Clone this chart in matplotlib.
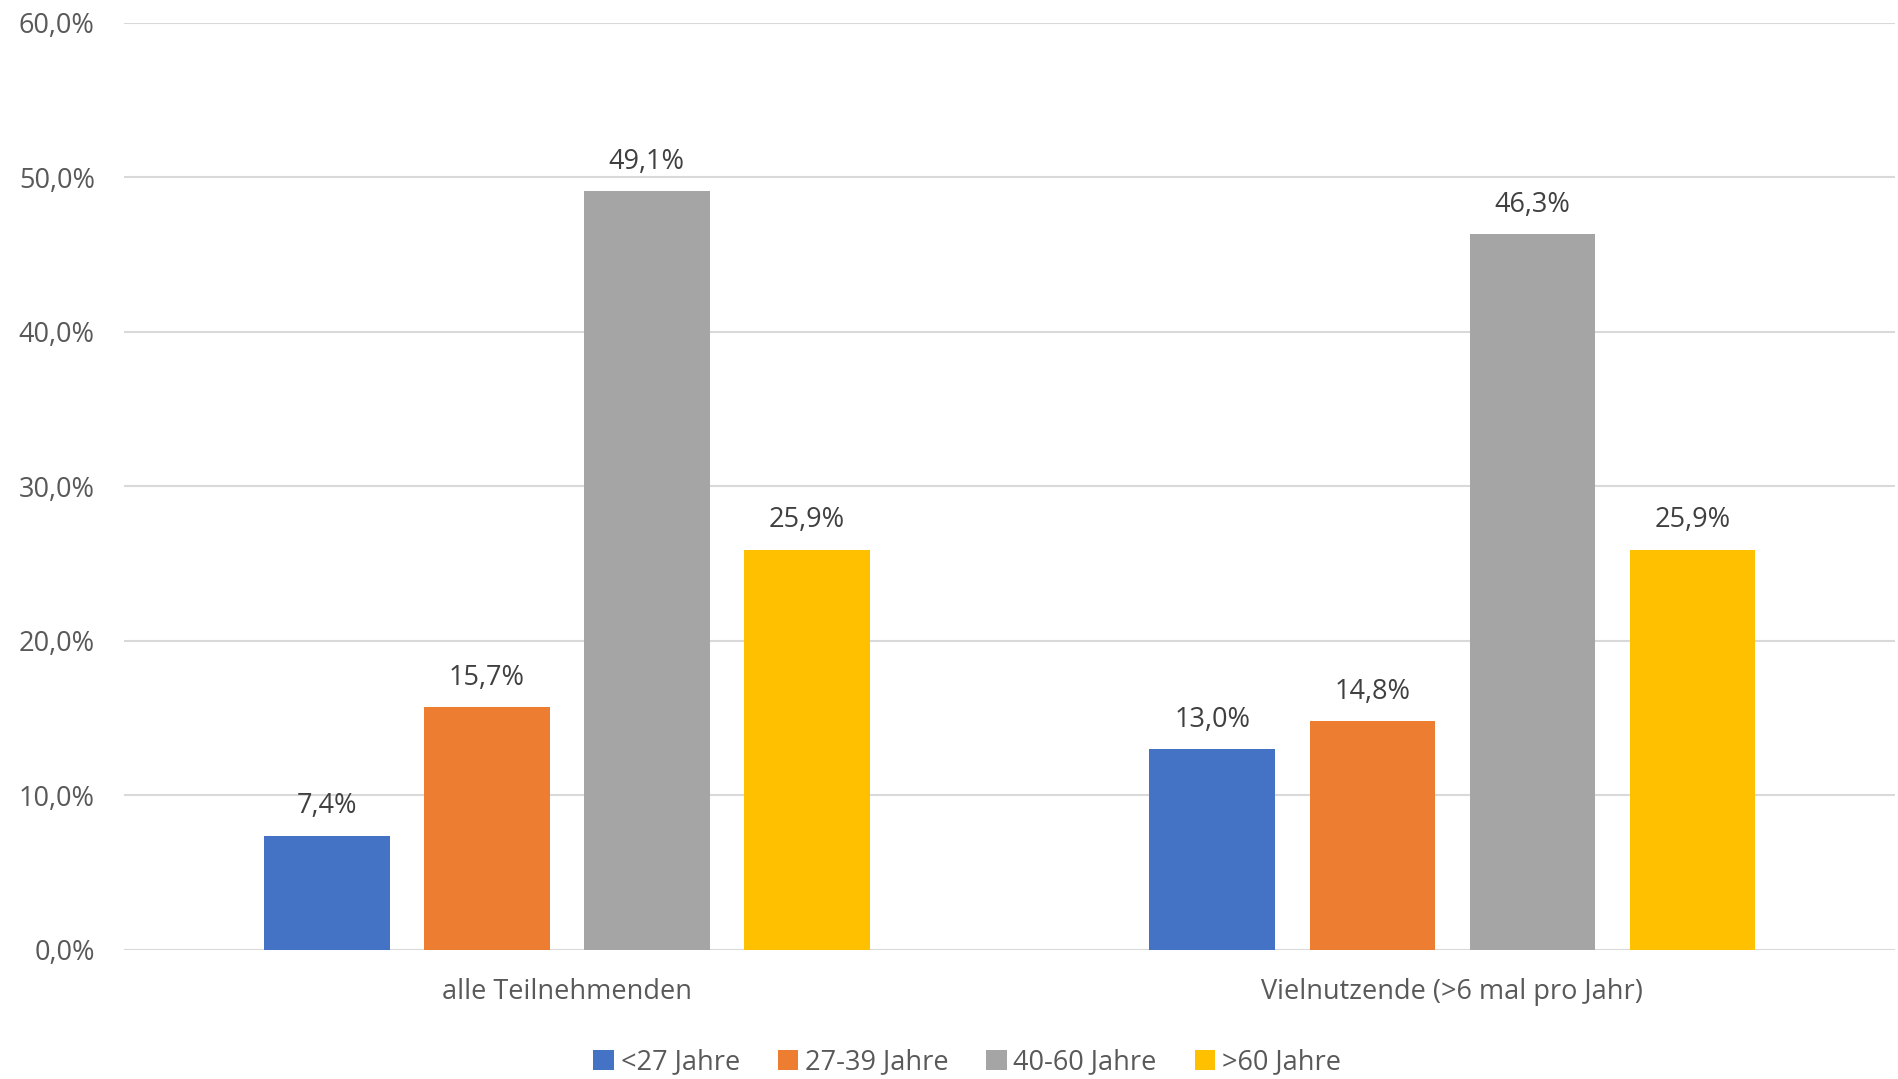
import matplotlib.pyplot as plt
import numpy as np

kategorien = ["alle Teilnehmenden", "Vielnutzende (>6 mal pro Jahr)"]
altersgruppen = ["<27 Jahre", "27-39 Jahre", "40-60 Jahre", ">60 Jahre"]
werte = [
    [7.4, 13.0],
    [15.7, 14.8],
    [49.1, 46.3],
    [25.9, 25.9],
]
farben = ["#4472C4", "#ED7D31", "#A5A5A5", "#FFC000"]
y_ticks = [0, 10, 20, 30, 40, 50, 60]

plt.rcParams['font.family'] = ['Open Sans', 'DejaVu Sans']
textfarbe = "#595959"

fig = plt.figure(figsize=(18.99, 10.79), dpi=100)
ax = fig.add_axes([0.0653, 0.1196, 0.9327, 0.8594])

x = np.arange(len(kategorien))
abstand = 0.1807
breite = 0.142
for i, (name, w) in enumerate(zip(altersgruppen, werte)):
    pos = x + (i - 1.5) * abstand
    balken = ax.bar(pos, w, breite, color=farben[i], label=name, zorder=3)
    for b, v in zip(balken, w):
        ax.annotate(f"{v:.1f}%".replace(".", ","),
                    (b.get_x() + b.get_width() / 2, v),
                    xytext=(0, 11), textcoords="offset points",
                    ha="center", va="bottom", fontsize=19.5, color="#404040")

ax.set_xlim(-0.5, 1.5)
ax.set_ylim(0, 60)
ax.set_yticks(y_ticks)
ax.set_yticklabels([f"{t:.1f}%".replace(".", ",") for t in y_ticks])
ax.set_xticks(x)
ax.set_xticklabels(kategorien)
ax.tick_params(axis="both", length=0, labelsize=19.5, colors=textfarbe)
ax.tick_params(axis="y", pad=21)
ax.tick_params(axis="x", pad=20)
ax.grid(axis="y", color="#D9D9D9", linewidth=1.5, zorder=0)
for s in ax.spines.values():
    s.set_visible(False)

ax.legend(loc="center", bbox_to_anchor=(0.476, -0.121), ncol=4,
          frameon=False, fontsize=19.5, handlelength=0.75, handleheight=0.75,
          handletextpad=0.25, columnspacing=1.4, labelcolor=textfarbe,
          borderpad=0.1)

fig.savefig("out.png", dpi=100)
